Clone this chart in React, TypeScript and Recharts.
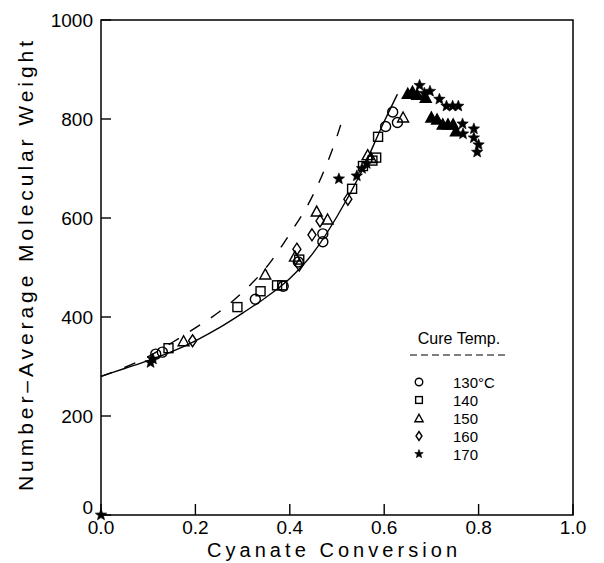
import { ComposedChart, Line, Scatter, XAxis, YAxis, ReferenceArea } from 'recharts';

// axis ticks
const xTicks = [0, 0.2, 0.4, 0.6, 0.8, 1.0];
const yTicks = [0, 200, 400, 600, 800, 1000];

// model curves (solid = fit, dashed = theory)
const solidX = [0, 0.05, 0.1, 0.15, 0.2, 0.25, 0.3, 0.35, 0.4, 0.45, 0.5, 0.55, 0.6, 0.628];
const solidY = [280, 296, 312, 330, 352, 378, 408, 440, 478, 530, 603, 690, 795, 850];
const dashedX = [0, 0.05, 0.1, 0.15, 0.2, 0.25, 0.3, 0.35, 0.4, 0.45, 0.5, 0.515];
const dashedY = [280, 298, 320, 348, 378, 410, 450, 500, 568, 648, 765, 810];

// measured points per cure temperature
const t130X = [0.116, 0.13, 0.327, 0.386, 0.418, 0.47, 0.47, 0.603, 0.618, 0.628];
const t130Y = [325, 329, 436, 462, 511, 568, 552, 785, 814, 793];
const t140X = [0.143, 0.289, 0.338, 0.373, 0.384, 0.42, 0.532, 0.555, 0.575, 0.583, 0.587];
const t140Y = [337, 420, 452, 464, 464, 516, 659, 705, 716, 722, 764];
const t150X = [0.175, 0.348, 0.411, 0.457, 0.48, 0.565, 0.572, 0.64];
const t150Y = [352, 487, 523, 614, 598, 728, 722, 804];
const t150HiX = [0.65, 0.66, 0.67, 0.688, 0.7, 0.712, 0.724, 0.735, 0.746, 0.752];
const t150HiY = [852, 856, 850, 844, 804, 800, 790, 790, 790, 776];
const t160X = [0.194, 0.415, 0.42, 0.447, 0.464, 0.523];
const t160Y = [352, 537, 505, 566, 594, 638];
const t170X = [0, 0.105, 0.11, 0.504, 0.542, 0.553, 0.563, 0.675, 0.685, 0.697, 0.717, 0.732, 0.745, 0.757, 0.766, 0.767, 0.79, 0.79, 0.8, 0.797];
const t170Y = [0, 308, 315, 679, 685, 700, 710, 868, 852, 856, 840, 826, 826, 826, 790, 770, 780, 762, 748, 733];

const legendLabels = ['130°C', '140', '150', '160', '170'];

const pts = (xs: number[], ys: number[]) => xs.map((x, i) => ({ x, y: ys[i] }));

const FONT = 'Liberation Sans, Arial, sans-serif';

const starPath = (cx: number, cy: number, ro: number, ri: number) => {
  let d = '';
  for (let i = 0; i < 10; i++) {
    const r = i % 2 === 0 ? ro : ri;
    const a = -Math.PI / 2 + (i * Math.PI) / 5;
    d += (i === 0 ? 'M' : 'L') + (cx + r * Math.cos(a)).toFixed(2) + ',' + (cy + r * Math.sin(a)).toFixed(2);
  }
  return d + 'Z';
};

const Marker = ({ kind, cx, cy, s = 1 }: { kind: string; cx: number; cy: number; s?: number }) => {
  const common = { stroke: '#000', strokeWidth: 1.4, fill: 'none' };
  if (kind === 'circle') return <circle cx={cx} cy={cy} r={5 * s} {...common} />;
  if (kind === 'square') return <rect x={cx - 4.5 * s} y={cy - 4.5 * s} width={9 * s} height={9 * s} {...common} />;
  if (kind === 'triangle' || kind === 'triangleFilled') {
    const h = 10 * s, w = 11 * s;
    return (
      <path
        d={`M${cx},${cy - h / 2}L${cx + w / 2},${cy + h / 2}L${cx - w / 2},${cy + h / 2}Z`}
        {...common}
        fill={kind === 'triangleFilled' ? '#000' : 'none'}
      />
    );
  }
  if (kind === 'diamond') {
    return <path d={`M${cx},${cy - 6 * s}L${cx + 4 * s},${cy}L${cx},${cy + 6 * s}L${cx - 4 * s},${cy}Z`} {...common} />;
  }
  return <path d={starPath(cx, cy, 6 * s, 2.6 * s)} fill="#000" stroke="#000" strokeWidth={0.6} />;
};

const XTick = ({ x, y, payload }: any) => (
  <g>
    <line x1={x} y1={y} x2={x} y2={y - 11} stroke="#000" strokeWidth={1.4} />
    <text x={x} y={y + 19} textAnchor="middle" fontSize={19} fontFamily={FONT} fill="#000">
      {Number(payload.value).toFixed(1)}
    </text>
  </g>
);

const YTick = ({ x, y, payload }: any) => (
  <g>
    <line x1={x} y1={y} x2={x + 10} y2={y} stroke="#000" strokeWidth={1.4} />
    <text x={x - 8} y={payload.value === 0 ? y - 1 : y + 7} textAnchor="end" fontSize={19} fontFamily={FONT} fill="#000">
      {payload.value}
    </text>
  </g>
);

const XTitle = () => (
  <text x={332} y={557} textAnchor="middle" fontSize={20} fontFamily={FONT} fill="#000" textLength={250} lengthAdjust="spacing">
    Cyanate Conversion
  </text>
);

const YTitle = () => (
  <text
    x={25}
    y={266}
    transform="rotate(-90 25 266)"
    textAnchor="middle"
    dominantBaseline="central"
    fontSize={21}
    fontFamily={FONT}
    fill="#000"
    textLength={450}
    lengthAdjust="spacing"
  >
    Number–Average Molecular Weight
  </text>
);

const LegendBox = () => {
  const kinds = ['circle', 'square', 'triangle', 'diamond', 'star'];
  const rowY = [62, 80, 98, 116, 134];
  return (
    <svg width={120} height={145} style={{ position: 'absolute', left: 400, top: 320, pointerEvents: 'none' }}>
      <text x={59} y={24} textAnchor="middle" fontSize={16} fontFamily={FONT} fill="#000">
        Cure Temp.
      </text>
      <line x1={10} y1={35} x2={105} y2={35} stroke="#000" strokeWidth={1.2} strokeDasharray="7 4" />
      {legendLabels.map((lab, i) => (
        <g key={lab}>
          <Marker kind={kinds[i]} cx={19} cy={rowY[i]} s={0.75} />
          <text x={53} y={rowY[i] + 5.5} fontSize={15} fontFamily={FONT} fill="#000">
            {lab}
          </text>
        </g>
      ))}
    </svg>
  );
};

export default function App() {
  return (
    <div style={{ position: 'absolute', left: 0, top: 0, width: 604, height: 563, background: '#fff' }}>
      <ComposedChart width={604} height={563} margin={{ top: 20, right: 31, left: 41, bottom: 8 }} style={{ fontFamily: FONT }}>
        <XAxis
          type="number"
          dataKey="x"
          domain={[0, 1]}
          ticks={xTicks}
          interval={0}
          axisLine={false}
          tickLine={false}
          tickSize={0}
          tickMargin={0}
          height={40}
          tick={<XTick />}
          label={<XTitle />}
        />
        <YAxis
          type="number"
          dataKey="y"
          domain={[0, 1000]}
          ticks={yTicks}
          interval={0}
          axisLine={false}
          tickLine={false}
          tickSize={0}
          tickMargin={0}
          width={60}
          tick={<YTick />}
          label={<YTitle />}
        />
        <ReferenceArea x1={0} x2={1} y1={0} y2={1000} fill="none" stroke="#000" strokeWidth={1.5} />
        <Line data={pts(dashedX, dashedY)} dataKey="y" type="monotone" stroke="#000" strokeWidth={1.4} strokeDasharray="12 13" dot={false} activeDot={false} isAnimationActive={false} />
        <Line data={pts(solidX, solidY)} dataKey="y" type="monotone" stroke="#000" strokeWidth={1.4} dot={false} activeDot={false} isAnimationActive={false} />
        <Scatter data={pts(t130X, t130Y)} isAnimationActive={false} shape={(p: any) => <Marker kind="circle" cx={p.cx} cy={p.cy} />} />
        <Scatter data={pts(t140X, t140Y)} isAnimationActive={false} shape={(p: any) => <Marker kind="square" cx={p.cx} cy={p.cy} />} />
        <Scatter data={pts(t150X, t150Y)} isAnimationActive={false} shape={(p: any) => <Marker kind="triangle" cx={p.cx} cy={p.cy} />} />
        <Scatter data={pts(t150HiX, t150HiY)} isAnimationActive={false} shape={(p: any) => <Marker kind="triangleFilled" cx={p.cx} cy={p.cy} />} />
        <Scatter data={pts(t160X, t160Y)} isAnimationActive={false} shape={(p: any) => <Marker kind="diamond" cx={p.cx} cy={p.cy} />} />
        <Scatter data={pts(t170X, t170Y)} isAnimationActive={false} shape={(p: any) => <Marker kind="star" cx={p.cx} cy={p.cy} />} />
      </ComposedChart>
      <LegendBox />
    </div>
  );
}
